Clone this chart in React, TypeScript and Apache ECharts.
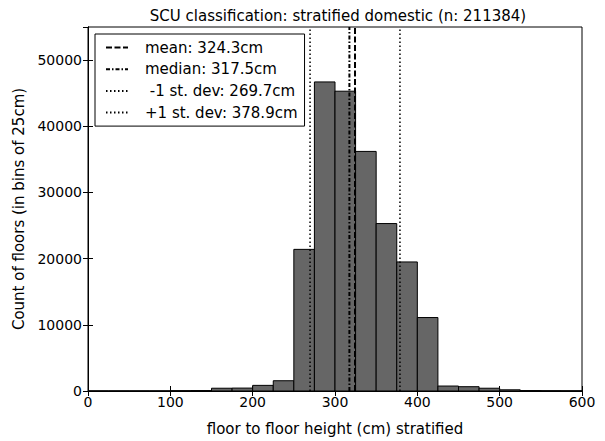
import React, { useEffect, useRef } from "react";
import * as echarts from "echarts";

const titleText = "SCU classification: stratified domestic (n: 211384)";
const xName = "floor to floor height (cm) stratified";
const yName = "Count of floors (in bins of 25cm)";
const binWidth = 25;
const binStarts = [0, 25, 50, 75, 100, 125, 150, 175, 200, 225, 250, 275, 300, 325, 350, 375, 400, 425, 450, 475, 500, 525, 550, 575];
const counts = [0, 0, 0, 0, 40, 60, 420, 440, 850, 1550, 21400, 46700, 45300, 36200, 25300, 19500, 11100, 750, 650, 420, 180, 60, 30, 20];
const statNames = ["mean: 324.3cm", "median: 317.5cm", " -1 st. dev: 269.7cm", "+1 st. dev: 378.9cm"];
const statValues = [324.3, 317.5, 269.7, 378.9];
const yMax = 55000;

const FONT = "DejaVu Sans";

export default function App() {
  const ref = useRef<HTMLDivElement>(null);
  useEffect(() => {
    if (!ref.current) return;
    const chart = echarts.init(ref.current, undefined, { renderer: "svg" });
    const dashes: any[] = [
      { type: [6, 2.5], width: 2 },
      { type: [4, 2, 1.5, 2], width: 2 },
      { type: [1.5, 2.5], width: 1.5 },
      { type: [1.5, 2.5], width: 1.5 },
    ];
    const axisCommon = {
      type: "value",
      min: 0,
      axisLine: { show: true, lineStyle: { color: "#000", width: 1 } },
      axisTick: { show: true, inside: true, length: 5, lineStyle: { color: "#000" } },
      splitLine: { show: false },
    };
    const option: any = {
      animation: false,
      backgroundColor: "#fff",
      textStyle: { fontFamily: FONT, color: "#000" },
      title: {
        text: titleText,
        left: 333,
        textAlign: "center",
        top: 3,
        textStyle: { fontFamily: FONT, fontSize: 15, fontWeight: "normal", color: "#000" },
      },
      grid: { left: 88, right: 23, top: 27, bottom: 41, show: true, borderColor: "#000", borderWidth: 1, backgroundColor: "#fff" },
      legend: {
        orient: "vertical",
        left: 95,
        top: 34,
        padding: [6, 7, 6, 10],
        itemWidth: 22,
        itemHeight: 15,
        itemGap: 6.7,
        borderColor: "#000",
        borderWidth: 1,
        backgroundColor: "#fff",
        data: statNames,
        itemStyle: { color: "rgba(0,0,0,0)", borderWidth: 0, opacity: 0 },
        textStyle: { fontFamily: FONT, fontSize: 15, color: "#000", padding: [0, 0, 0, 12] },
      },
      xAxis: [
        {
          ...axisCommon,
          max: 600,
          interval: 100,
          position: "bottom",
          name: xName,
          nameLocation: "middle",
          nameGap: 30,
          nameTextStyle: { fontFamily: FONT, fontSize: 15, color: "#000" },
          axisLabel: { fontFamily: FONT, fontSize: 14, color: "#000", margin: 4 },
        },
        {
          ...axisCommon,
          max: 600,
          interval: 100,
          position: "top",
          axisLabel: { show: false },
        },
      ],
      yAxis: [
        {
          ...axisCommon,
          max: yMax,
          interval: 10000,
          position: "left",
          name: yName,
          nameLocation: "middle",
          nameGap: 55,
          nameTextStyle: { fontFamily: FONT, fontSize: 15, color: "#000" },
          axisLabel: {
            fontFamily: FONT,
            fontSize: 14,
            color: "#000",
            margin: 6,
            showMaxLabel: false,
            formatter: (v: number) => String(v),
          },
        },
        {
          ...axisCommon,
          max: yMax,
          interval: 10000,
          position: "right",
          axisLabel: { show: false },
        },
      ],
      series: [
        {
          type: "custom",
          name: "hist",
          xAxisIndex: 0,
          yAxisIndex: 0,
          encode: { x: 0, y: 1 },
          data: binStarts.map((b, i) => [b, counts[i]]),
          renderItem: (params: any, api: any) => {
            const x0 = api.value(0);
            const y = api.value(1);
            const p0 = api.coord([x0, y]);
            const p1 = api.coord([x0 + binWidth, 0]);
            return {
              type: "rect",
              shape: { x: p0[0], y: p0[1], width: p1[0] - p0[0], height: p1[1] - p0[1] },
              style: { fill: "#666666", stroke: "#000", lineWidth: 1 },
            };
          },
          z: 2,
        },
        ...statNames.map((n, i) => ({
          type: "line",
          name: n,
          xAxisIndex: 0,
          yAxisIndex: 0,
          symbol: "none",
          data: [
            [statValues[i], 0],
            [statValues[i], yMax],
          ],
          lineStyle: { color: "#000", width: dashes[i].width, type: dashes[i].type },
          itemStyle: { color: "#000" },
          z: 3,
        })),
      ],
    };
    chart.setOption(option);
    return () => chart.dispose();
  }, []);
  return <div ref={ref} style={{ width: 605, height: 441, position: "absolute", left: 0, top: 0 }} />;
}
